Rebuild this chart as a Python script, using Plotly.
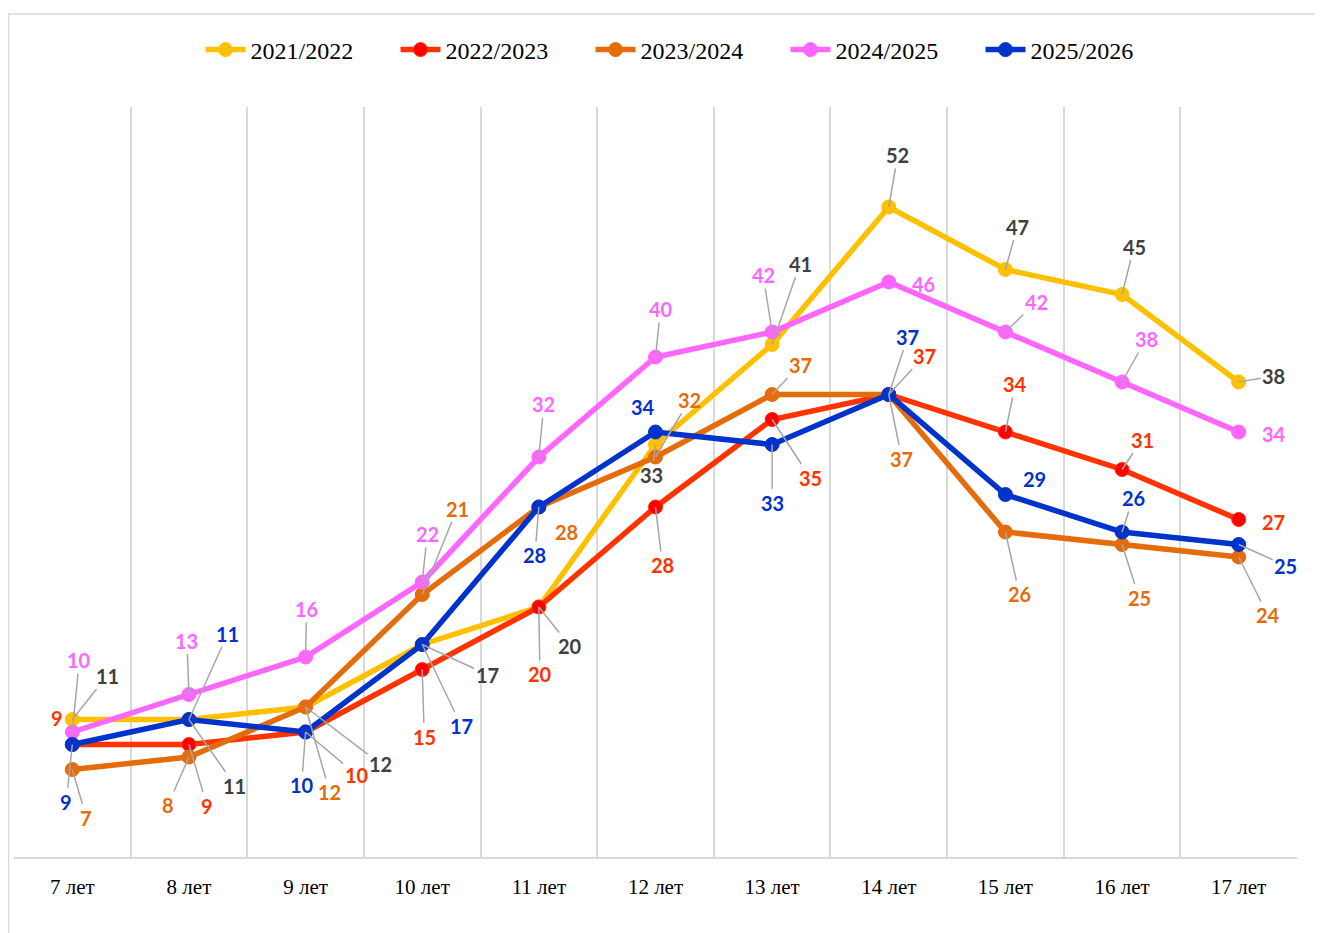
import plotly.graph_objects as go

categories = ["7 лет", "8 лет", "9 лет", "10 лет", "11 лет", "12 лет",
              "13 лет", "14 лет", "15 лет", "16 лет", "17 лет"]

series_names = ["2021/2022", "2022/2023", "2023/2024", "2024/2025", "2025/2026"]
v2021 = [11, 11, 12, 17, 20, 33, 41, 52, 47, 45, 38]
v2022 = [9, 9, 10, 15, 20, 28, 35, 37, 34, 31, 27]
v2023 = [7, 8, 12, 21, 28, 32, 37, 37, 26, 25, 24]
v2024 = [10, 13, 16, 22, 32, 40, 42, 46, 42, 38, 34]
v2025 = [9, 11, 10, 17, 28, 34, 33, 37, 29, 26, 25]
values = [v2021, v2022, v2023, v2024, v2025]

# styles
line_colors = ["#FFC000", "#FF3300", "#E46C0A", "#FF66FF", "#0033CC"]
marker_colors = ["#FFC000", "#FF0000", "#E46C0A", "#FF66FF", "#0033CC"]
label_colors = ["#404040", "#FF3300", "#E46C0A", "#FF66FF", "#0033CC"]

# label offsets in pixels (dx, dy) and whether a leader line is drawn
offsets = [
    [(35, -44), (46, 66), (75, 57), (65, 30), (31, 39), (-4, 30), (28, -81), (9, -52), (12, -43), (12, -48), (35, -6)],
    [(-15, -27), (18, 61), (51, 43), (2, 67), (1, 67), (7, 58), (38, 58), (36, -39), (10, -48), (20, -30), (35, 2)],
    [(14, 48), (-21, 48), (24, 85), (35, -86), (28, 25), (34, -57), (28, -30), (13, 64), (14, 62), (17, 53), (29, 58)],
    [(7, -72), (-2, -54), (1, -48), (5, -48), (5, -53), (5, -48), (-9, -57), (35, 2), (31, -30), (24, -43), (35, 2)],
    [(-6, 57), (39, -86), (-4, 53), (39, 81), (-4, 48), (-13, -25), (0, 58), (19, -58), (29, -16), (11, -34), (47, 21)],
]
no_leader = {(1, 0), (1, 10), (2, 4), (3, 7), (3, 10), (4, 5), (4, 8)}

fig = go.Figure()
for s, name in enumerate(series_names):
    fig.add_trace(go.Scatter(
        x=categories, y=values[s], name=name, mode="lines+markers",
        line=dict(color=line_colors[s], width=5.5),
        marker=dict(color=marker_colors[s], size=14,
                    line=dict(color=line_colors[s], width=1)),
    ))

annotations = []
for s in range(len(series_names)):
    for i, cat in enumerate(categories):
        dx, dy = offsets[s][i]
        annotations.append(dict(
            x=cat, y=values[s][i], xref="x", yref="y",
            text=str(values[s][i]), showarrow=True, arrowhead=0,
            arrowwidth=1.5, standoff=0, startstandoff=0,
            arrowcolor="rgba(0,0,0,0)" if (s, i) in no_leader else "#A6A6A6",
            ax=dx, ay=dy,
            font=dict(family="Lato", size=20, color=label_colors[s], weight="bold"),
        ))

W, H = 1323, 933
L, R, T, B = 6, 34, 99, 84
pw, ph = W - L - R, H - T - B

def px(xpix):
    return (xpix - L) / pw

def py(ypix):
    return (H - B - ypix) / ph

shapes = [
    dict(type="line", xref="paper", yref="paper", x0=px(0), x1=px(1323), y0=py(6), y1=py(6),
         line=dict(color="#D9D9D9", width=1.5)),
    dict(type="line", xref="paper", yref="paper", x0=px(0.5), x1=px(0.5), y0=py(6), y1=py(933),
         line=dict(color="#D9D9D9", width=1.5)),
]

fig.update_layout(
    width=W, height=H,
    margin=dict(l=L, r=R, t=T, b=B),
    paper_bgcolor="white", plot_bgcolor="white",
    showlegend=True,
    legend=dict(orientation="h", x=px(680), xanchor="center", y=py(42), yanchor="middle",
                font=dict(family="Liberation Serif", size=24, color="#000000"),
                entrywidth=140, entrywidthmode="pixels",
                itemwidth=40, bgcolor="rgba(0,0,0,0)"),
    xaxis=dict(type="category", tickson="boundaries", showgrid=True,
               gridcolor="#D9D9D9", gridwidth=2, showline=True, linecolor="#D9D9D9",
               linewidth=2, ticks="", ticklabelstandoff=10,
               tickfont=dict(family="Liberation Serif", size=21, color="#000000"),
               range=[-0.5, 10.5]),
    yaxis=dict(range=[0, 60], showgrid=False, showticklabels=False, zeroline=False,
               showline=False, ticks=""),
    annotations=annotations,
    shapes=shapes,
)

fig.write_html("out.html")
